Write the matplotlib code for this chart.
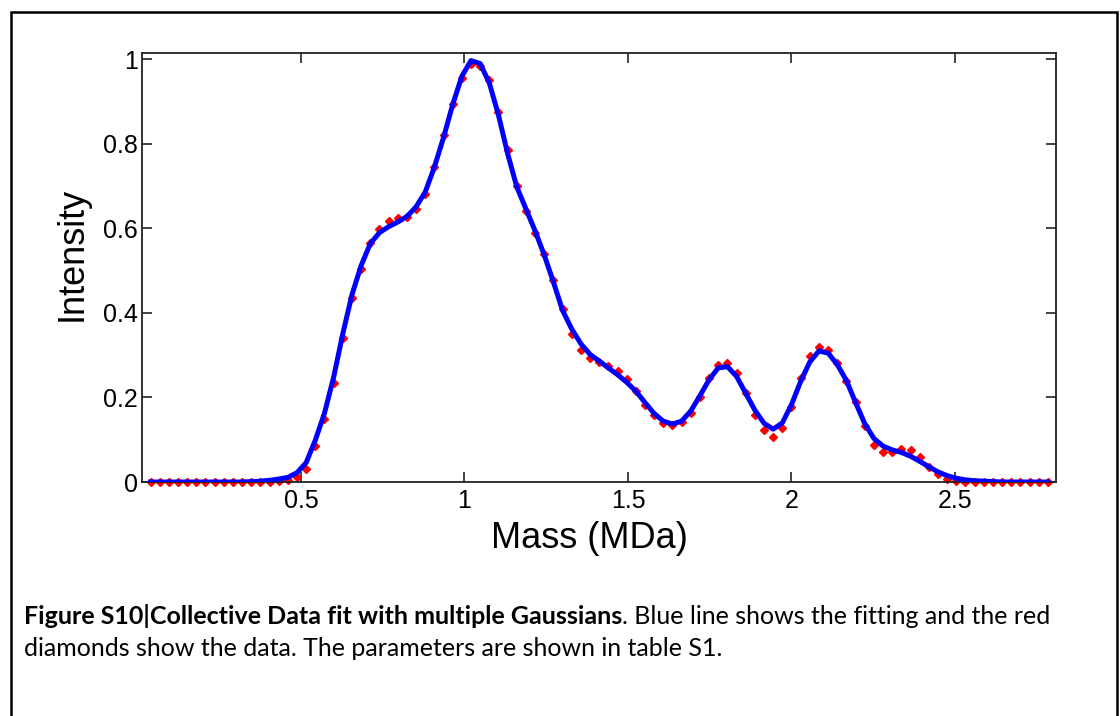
import matplotlib.pyplot as plt
from matplotlib.patches import Rectangle

plt.rcParams['font.family'] = 'Liberation Sans'

# Mass axis (MDa) shared by data points and fitted curve
mass = [0.040, 0.068, 0.096, 0.124, 0.152, 0.180, 0.208, 0.236, 0.264, 0.292,
        0.320, 0.348, 0.376, 0.404, 0.432, 0.460, 0.488, 0.516, 0.544, 0.572,
        0.600, 0.628, 0.656, 0.684, 0.712, 0.740, 0.768, 0.796, 0.824, 0.852,
        0.880, 0.908, 0.936, 0.964, 0.992, 1.020, 1.048, 1.076, 1.104, 1.132,
        1.160, 1.188, 1.216, 1.244, 1.272, 1.300, 1.328, 1.356, 1.384, 1.412,
        1.440, 1.468, 1.496, 1.524, 1.552, 1.580, 1.608, 1.636, 1.664, 1.692,
        1.720, 1.748, 1.776, 1.804, 1.832, 1.860, 1.888, 1.916, 1.944, 1.972,
        2.000, 2.028, 2.056, 2.084, 2.112, 2.140, 2.168, 2.196, 2.224, 2.252,
        2.280, 2.308, 2.336, 2.364, 2.392, 2.420, 2.448, 2.476, 2.504, 2.532,
        2.560, 2.588, 2.616, 2.644, 2.672, 2.700, 2.728, 2.756, 2.784]

# Measured intensity (red diamonds)
data = [0.000, 0.000, 0.000, 0.000, 0.000, 0.000, 0.000, 0.000, 0.000, 0.000,
        0.000, 0.000, 0.000, 0.001, 0.002, 0.005, 0.012, 0.030, 0.085, 0.150,
        0.235, 0.340, 0.435, 0.505, 0.565, 0.598, 0.618, 0.624, 0.628, 0.645,
        0.682, 0.745, 0.822, 0.895, 0.955, 0.990, 0.985, 0.950, 0.875, 0.785,
        0.700, 0.640, 0.590, 0.540, 0.478, 0.410, 0.350, 0.312, 0.293, 0.285,
        0.274, 0.262, 0.243, 0.215, 0.183, 0.158, 0.140, 0.136, 0.143, 0.163,
        0.200, 0.245, 0.278, 0.282, 0.257, 0.210, 0.158, 0.122, 0.106, 0.128,
        0.178, 0.245, 0.298, 0.320, 0.312, 0.282, 0.240, 0.190, 0.132, 0.088,
        0.072, 0.072, 0.078, 0.075, 0.058, 0.035, 0.018, 0.008, 0.003, 0.001,
        0.000, 0.000, 0.000, 0.000, 0.000, 0.000, 0.000, 0.000, 0.000]

# Multi-Gaussian fit (blue line)
fit = [0.000, 0.000, 0.000, 0.000, 0.000, 0.000, 0.000, 0.000, 0.000, 0.000,
       0.000, 0.001, 0.002, 0.004, 0.007, 0.011, 0.022, 0.046, 0.099, 0.163,
       0.248, 0.351, 0.443, 0.512, 0.564, 0.590, 0.604, 0.615, 0.628, 0.651,
       0.686, 0.745, 0.815, 0.893, 0.960, 0.997, 0.990, 0.944, 0.868, 0.777,
       0.698, 0.646, 0.594, 0.537, 0.473, 0.406, 0.362, 0.327, 0.302, 0.286,
       0.270, 0.254, 0.236, 0.215, 0.188, 0.162, 0.144, 0.137, 0.144, 0.168,
       0.204, 0.242, 0.270, 0.273, 0.250, 0.210, 0.170, 0.139, 0.125, 0.140,
       0.183, 0.238, 0.284, 0.310, 0.305, 0.278, 0.240, 0.188, 0.138, 0.103,
       0.085, 0.076, 0.070, 0.061, 0.049, 0.036, 0.024, 0.015, 0.009, 0.005,
       0.003, 0.002, 0.001, 0.000, 0.000, 0.000, 0.000, 0.000, 0.000]

x_ticks = [0.5, 1, 1.5, 2, 2.5]
x_labels = ['0.5', '1', '1.5', '2', '2.5']
y_ticks = [0, 0.2, 0.4, 0.6, 0.8, 1]
y_labels = ['0', '0.2', '0.4', '0.6', '0.8', '1']

fig = plt.figure(figsize=(11.2, 7.16), dpi=100)
ax = fig.add_axes([0.1268, 0.3268, 0.8161, 0.5992])

ax.plot(mass, data, linestyle='none', marker='D', markersize=4.5,
        color='red', markeredgecolor='red', clip_on=False, zorder=2)
ax.plot(mass, fit, color='blue', linewidth=3.6, zorder=3,
        solid_joinstyle='round')

ax.set_xlim(0.014, 2.809)
ax.set_ylim(0, 1.015)
ax.set_xticks(x_ticks)
ax.set_xticklabels(x_labels)
ax.set_yticks(y_ticks)
ax.set_yticklabels(y_labels)

ax.tick_params(direction='in', top=True, right=True, length=7, width=1.2,
               labelsize=18, color='#222222')
ax.tick_params(axis='x', pad=5)
ax.tick_params(axis='y', pad=3)
for sp in ax.spines.values():
    sp.set_linewidth(1.3)
    sp.set_color('#222222')

ax.set_xlabel('Mass (MDa)', fontsize=26)
ax.xaxis.set_label_coords(0.489, -0.091)
ax.set_ylabel('Intensity', fontsize=26)
ax.yaxis.set_label_coords(-0.057, 0.531)

# Outer frame of the figure panel
fig.add_artist(Rectangle((11 / 1120, -0.05), 1106 / 1120, 1.05 - 12 / 716,
                         transform=fig.transFigure, fill=False,
                         edgecolor='black', linewidth=1.8))

# Caption, bold lead-in followed by regular text
cap_font = 'Lato'
cap_size = 18.0
t1 = fig.text(24 / 1120, 1 - 624 / 716, 'Figure S10|Collective Data fit with multiple Gaussians',
              fontsize=cap_size, fontweight='bold', family=cap_font, va='baseline')
ax.annotate('. Blue line shows the fitting and the red', xy=(1, 0), xycoords=t1,
            fontsize=cap_size, family=cap_font, va='bottom', ha='left',
            annotation_clip=False)
fig.text(24 / 1120, 1 - 656 / 716,
         'diamonds show the data. The parameters are shown in table S1.',
         fontsize=cap_size, family=cap_font, va='baseline')

fig.savefig('out.png', dpi=100)
